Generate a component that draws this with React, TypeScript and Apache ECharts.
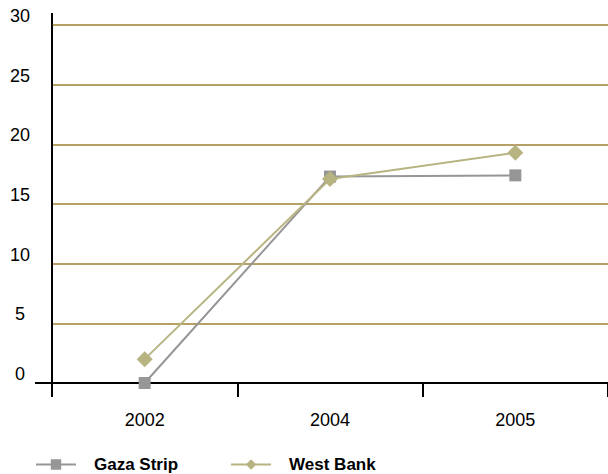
import React, { useEffect, useRef } from "react";
import * as echarts from "echarts";

const years = ["2002", "2004", "2005"];
const gazaStrip = [0, 17.3, 17.4];
const westBank = [2, 17.1, 19.3];

export default function App() {
  const ref = useRef<HTMLDivElement>(null);
  useEffect(() => {
    const chart = echarts.init(ref.current!, null, { renderer: "svg" });
    const font = "'Liberation Sans', Arial, sans-serif";
    chart.setOption({
      animation: false,
      grid: { left: 52, right: 0, top: 25, bottom: 91 },
      graphic: [
        { type: "line", shape: { x1: 52, y1: 13, x2: 52, y2: 25 }, style: { stroke: "#000", lineWidth: 2 } },
        { type: "line", shape: { x1: 35, y1: 383, x2: 52, y2: 383 }, style: { stroke: "#000", lineWidth: 2 } },
      ],
      legend: {
        top: 451,
        left: 30,
        itemGap: 52,
        itemWidth: 40,
        itemHeight: 13,
        textStyle: {
          fontFamily: font,
          fontSize: 17,
          fontWeight: "bold",
          color: "#000",
          padding: [0, 0, 0, 13],
        },
        data: ["Gaza Strip", "West Bank"],
      },
      xAxis: {
        type: "category",
        data: years,
        boundaryGap: true,
        axisLine: { lineStyle: { color: "#000", width: 2 } },
        axisTick: { show: true, length: 14, inside: false, lineStyle: { color: "#000", width: 2 } },
        axisLabel: { fontFamily: font, fontSize: 18, color: "#000", margin: 28 },
        splitLine: { show: false },
      },
      yAxis: {
        type: "value",
        min: 0,
        max: 30,
        interval: 5,
        axisLine: { show: true, onZero: false, lineStyle: { color: "#000", width: 2 } },
        axisTick: { show: false },
        axisLabel: {
          fontFamily: font,
          fontSize: 18,
          color: "#000",
          align: "center",
          margin: 32,
          verticalAlign: "bottom",
        },
        splitLine: { lineStyle: { color: "#B5A165", width: 2 } },
      },
      series: [
        {
          name: "Gaza Strip",
          type: "line",
          data: gazaStrip,
          symbol: "rect",
          symbolSize: 12,
          color: "#969696",
          lineStyle: { color: "#969696", width: 2 },
          itemStyle: { color: "#969696" },
          z: 3,
        },
        {
          name: "West Bank",
          type: "line",
          data: westBank,
          symbol: "diamond",
          symbolSize: 16,
          color: "#B8B482",
          lineStyle: { color: "#B8B482", width: 2 },
          itemStyle: { color: "#B8B482" },
          z: 4,
        },
      ],
    });
    return () => chart.dispose();
  }, []);
  return <div ref={ref} style={{ width: 608, height: 474, position: "absolute", left: 0, top: 0 }} />;
}
